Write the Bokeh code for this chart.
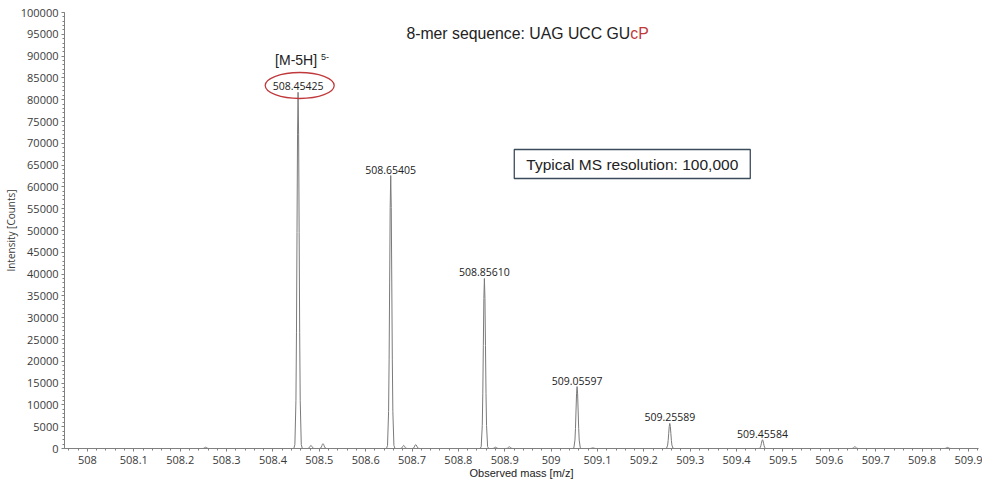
import math
from bokeh.plotting import figure
from bokeh.models import (Label, FixedTicker, CustomJSTickFormatter, ColumnDataSource, Range1d, Ellipse)
from bokeh.core.properties import value
from bokeh.embed import file_html
from bokeh.resources import INLINE

# ---------------- data ----------------
main_mz = [508.45425, 508.65405, 508.85610, 509.05597, 509.25589, 509.45584]
main_int = [81700, 62600, 39000, 14200, 5750, 2000]
main_labels = ["508.45425", "508.65405", "508.85610", "509.05597", "509.25589", "509.45584"]

minor_mz = [508.255, 508.482, 508.508, 508.682, 508.708, 508.880, 508.910, 509.090, 509.655, 509.855]
minor_int = [300, 700, 1100, 700, 900, 300, 400, 150, 400, 250]

x_tick_labels = ["508", "508.1", "508.2", "508.3", "508.4", "508.5", "508.6", "508.7", "508.8", "508.9",
                 "509", "509.1", "509.2", "509.3", "509.4", "509.5", "509.6", "509.7", "509.8", "509.9"]
y_tick_labels = ["0", "5000", "10000", "15000", "20000", "25000", "30000", "35000", "40000", "45000",
                 "50000", "55000", "60000", "65000", "70000", "75000", "80000", "85000", "90000",
                 "95000", "100000"]

x_start, x_end = 507.9505, 509.9217

# peak profile shape (style): offsets in units of sigma
sigma = 0.0023
prof_dx = [-4.0, -3.0, -2.0, -1.5, -1.0, -0.5, 0.0, 0.5, 1.0, 1.5, 2.0, 3.0, 4.0]

# ---------------- build trace ----------------
peaks = sorted(list(zip(main_mz, main_int)) + list(zip(minor_mz, minor_int)))
xs, ys = [x_start], [0]
for c, h in peaks:
    for d in prof_dx:
        xs.append(c + d * sigma)
        ys.append(h * math.exp(-d * d / 2.0) if abs(d) < 4 else 0)
xs.append(x_end)
ys.append(0)

p = figure(width=982, height=487, output_backend="svg", toolbar_location=None,
           x_range=Range1d(x_start, x_end), y_range=Range1d(0, 100000),
           min_border_left=62, min_border_right=4, min_border_top=12, min_border_bottom=39)
p.outline_line_color = None
p.xgrid.grid_line_color = None
p.ygrid.grid_line_color = None
p.background_fill_color = "white"

p.line(xs, ys, line_color="#7a7a7a", line_width=1)

# axes
ax_col = "#808080"
lab_col = "#3a3a3a"
xt = [float(s) for s in x_tick_labels]
xminor = [round(507.96 + i * 0.02, 4) for i in range(0, 99)]
yt = [float(s) for s in y_tick_labels]
yminor = [i * 1000 for i in range(0, 101)]
p.xaxis.ticker = FixedTicker(ticks=xt, minor_ticks=xminor)
p.yaxis.ticker = FixedTicker(ticks=yt, minor_ticks=yminor)
p.xaxis.formatter = CustomJSTickFormatter(code="return tick.toFixed(1).replace(/\\.0$/, '');")
p.yaxis.formatter = CustomJSTickFormatter(code="return tick.toFixed(0);")
for ax in (p.xaxis, p.yaxis):
    ax.axis_line_color = ax_col
    ax.major_tick_line_color = ax_col
    ax.minor_tick_line_color = ax_col
    ax.major_tick_in = 0
    ax.major_tick_out = 3
    ax.minor_tick_in = 0
    ax.minor_tick_out = 2
    ax.major_label_text_font = "Open Sans"
    ax.major_label_text_font_size = "11px"
    ax.major_label_text_color = lab_col
    ax.axis_label_text_font_style = "normal"
    ax.axis_label_standoff = 0
p.yaxis.major_label_standoff = 3
p.xaxis.major_label_standoff = 4

p.yaxis.axis_label = "Intensity [Counts]"
p.yaxis.axis_label_text_font = "Open Sans"
p.yaxis.axis_label_text_font_size = "10px"
p.yaxis.axis_label_text_color = lab_col

p.xaxis.axis_label = "Observed mass [m/z]"
p.xaxis.axis_label_text_font = "Liberation Sans"
p.xaxis.axis_label_text_font_size = "11px"
p.xaxis.axis_label_text_color = "#222222"

# peak labels
src = ColumnDataSource(dict(x=main_mz, y=main_int, t=main_labels))
p.text(x="x", y="y", text="t", source=src, text_align="center", text_baseline="bottom",
       y_offset=-2, text_font=value("Open Sans"), text_font_size="10.5px", text_color="#222222")

# ellipse around main label
ell_src = ColumnDataSource(dict(x=[main_mz[0] + 0.0035], y=[main_int[0] + 1560]))
p.add_glyph(ell_src, Ellipse(x="x", y="y", width=69, height=26, width_units="screen",
                             height_units="screen", fill_color=None, line_color="#c0393b",
                             line_width=1.3))

# [M-5H] 5-
p.add_layout(Label(x=main_mz[0], y=88991, x_offset=-2, text="[M-5H]", text_align="center",
                   text_baseline="middle", text_font="Liberation Sans", text_font_size="14px",
                   text_color="#222222"))
p.add_layout(Label(x=main_mz[0], y=89908, x_offset=23, text="5-", text_align="left",
                   text_baseline="middle", text_font="Liberation Sans", text_font_size="9px",
                   text_color="#222222"))

# title
tx = 509.1706
p.add_layout(Label(x=tx, y=95183, text="8-mer sequence: UAG UCC GU", text_align="right",
                   text_baseline="middle", text_font="Liberation Sans", text_font_size="15.8px",
                   text_color="#222222"))
p.add_layout(Label(x=tx, y=95183, text="cP", text_align="left",
                   text_baseline="middle", text_font="Liberation Sans", text_font_size="15.8px",
                   text_color="#c0393b"))

# resolution box
bx, by = 509.175, 65252
p.rect(x=[bx], y=[by], width=236, height=29, width_units="screen", height_units="screen",
       fill_color=None, line_color="#3b4b5b", line_width=1.3)
p.add_layout(Label(x=bx, y=by, text="Typical MS resolution: 100,000", text_align="center",
                   text_baseline="middle", text_font="Liberation Sans", text_font_size="15.5px",
                   text_color="#222222"))

open("out.html", "w").write(file_html(p, INLINE))
